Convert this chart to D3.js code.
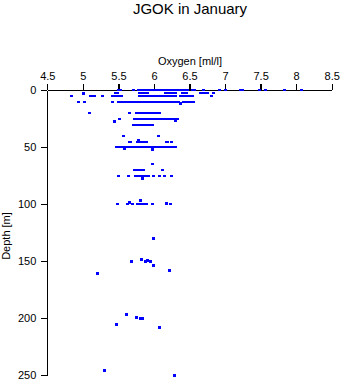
<!DOCTYPE html>
<html><head><meta charset="utf-8">
<script src="https://cdn.jsdelivr.net/npm/d3@7"></script>
<style>body{margin:0;background:#fff}svg{display:block}text{font-family:"Liberation Sans",Arial,sans-serif;fill:#000}</style>
</head><body>
<script>
// Oxygen [ml/l] readings grouped by sampling depth [m]
const rowDepths = [0, 2.5, 5, 10.5, 20, 25.4, 30, 40, 45, 50, 65, 70, 75, 100];
const oxy0 = [5.50,5.53,5.71,5.78,5.80,5.82,5.85,5.87,5.90,5.92,5.95,5.97,6.00,6.02,6.05,6.07,6.10,6.12,6.15,6.17,6.20,6.22,6.25,6.27,6.30,6.32,6.35,6.37,6.40,6.43,6.47,6.54,6.57,6.69,6.92,7.01,7.22,7.25,7.49,7.57,7.84,8.07];
const oxy2 = [5.46,5.49,5.79,5.82,5.85,5.88,5.91,6.16,6.19,6.22,6.25,6.28,6.31,6.40,6.43,6.46,6.66,6.69,6.72,6.75,6.84];
const oxy5 = [4.84,5.11,5.14,5.17,5.27,5.42,5.45,5.48,5.51,5.54,5.80,5.83,5.86,5.89,5.92,5.95,5.98,6.01,6.04,6.07,6.10,6.13,6.16,6.19,6.22,6.25,6.28,6.31,6.37,6.40,6.44,6.49,6.52,6.54,6.81];
const oxy10 = [4.94,5.02,5.41,5.50,5.53,5.56,5.59,5.61,5.66,5.69,5.72,5.75,5.78,5.81,5.84,5.87,5.90,5.93,5.96,5.99,6.02,6.05,6.08,6.11,6.14,6.17,6.20,6.23,6.26,6.29,6.32,6.35,6.42,6.45,6.47,6.52,6.55];
const oxy20 = [5.09,5.66,5.76,5.79,5.82,5.85,5.88,5.91,5.94,5.97,6.00,6.03,6.06,6.08];
const oxy25 = [5.51,5.72,5.75,5.78,5.81,5.84,5.87,5.90,5.93,5.96,5.99,6.02,6.05,6.08,6.11,6.14,6.17,6.20,6.23,6.26,6.29,6.33];
const oxy30 = [5.71,5.74,5.77,5.80,5.83,5.86,5.89,5.92,5.95,5.98];
const oxy40 = [5.57,6.07];
const oxy45 = [5.65,5.67,5.77,5.79,5.81,5.84,5.87,5.89,6.17,6.19,6.24];
const oxy50 = [5.48,5.51,5.54,5.57,5.60,5.62,5.66,5.69,5.72,5.75,5.78,5.81,5.84,5.87,5.90,5.93,5.96,5.99,6.04,6.07,6.10,6.13,6.16,6.19,6.22,6.25,6.28,6.30];
const oxy65 = [5.98];
const oxy70 = [5.73,5.76,5.79,5.82,5.85,6.12];
const oxy75 = [5.50,5.64,5.74,5.77,5.80,5.83,5.86,5.89,5.93,5.99,6.08,6.15,6.25];
const oxy100 = [5.49,5.63,5.70,5.77,5.80,5.83,5.86,5.90,5.98,6.23];
const rowOxygen = [oxy0, oxy2, oxy5, oxy10, oxy20, oxy25, oxy30, oxy40, oxy45, oxy50, oxy65, oxy70, oxy75, oxy100];
// individual samples off the main rows
const extraDepth  = [3, 12, 27, 26.5, 44, 51, 52, 77, 98, 97, 99, 130, 150, 148, 150, 149, 150, 154, 158, 161, 197, 199, 200, 200, 205, 208, 246, 250];
const extraOxygen = [5.01, 6.37, 5.45, 6.31, 5.78, 5.59, 5.98, 5.84, 5.65, 5.81, 6.17, 6.00, 5.68, 5.82, 5.88, 5.91, 5.95, 5.99, 6.22, 5.20, 5.61, 5.75, 5.81, 5.84, 5.48, 6.08, 5.30, 6.29];
const xTicks = [4.5, 5, 5.5, 6, 6.5, 7, 7.5, 8, 8.5];
const yTicks = [0, 50, 100, 150, 200, 250];

const points = [];
rowDepths.forEach((d, i) => rowOxygen[i].forEach(o => points.push({d, o, s: 2})));
extraDepth.forEach((d, i) => points.push({d, o: extraOxygen[i], s: 3}));

const W = 343, H = 384;
const svg = d3.select("body").append("svg").attr("width", W).attr("height", H);
const x = d3.scaleLinear().domain([4.5, 8.5]).range([47.3, 331.7]);
const y = d3.scaleLinear().domain([0, 250]).range([90.3, 375.3]);

svg.append("text").attr("x", 190).attr("y", 13.5).attr("text-anchor", "middle")
  .style("font-size", "15px").text("JGOK in January");
svg.append("text").attr("x", 190).attr("y", 64.5).attr("text-anchor", "middle")
  .style("font-size", "11px").text("Oxygen [ml/l]");
svg.append("text").attr("transform", "translate(10,236) rotate(-90)").attr("text-anchor", "middle")
  .style("font-size", "11px").text("Depth [m]");

const xAxis = svg.append("g").attr("transform", `translate(0,${y(0)})`)
  .call(d3.axisTop(x).tickValues(xTicks).tickFormat(d3.format("")).tickSize(6).tickSizeOuter(0).tickPadding(4));
const yAxis = svg.append("g").attr("transform", `translate(${x(4.5)},0)`)
  .call(d3.axisLeft(y).tickValues(yTicks).tickSize(6).tickSizeOuter(0).tickPadding(5));
[xAxis, yAxis].forEach(g => {
  g.selectAll("path,line").attr("stroke", "#000").attr("stroke-width", 1.3).attr("shape-rendering", "crispEdges");
  g.selectAll("text").style("font-size", "11px").style("font-family", '"Liberation Sans",Arial,sans-serif').attr("fill", "#000");
});

svg.append("g").selectAll("rect").data(points).join("rect")
  .attr("x", p => x(p.o) - 1.5).attr("y", p => y(p.d) - p.s / 2)
  .attr("width", 3).attr("height", p => p.s)
  .attr("fill", "#0000ff").attr("shape-rendering", "crispEdges");
</script>
</body></html>
